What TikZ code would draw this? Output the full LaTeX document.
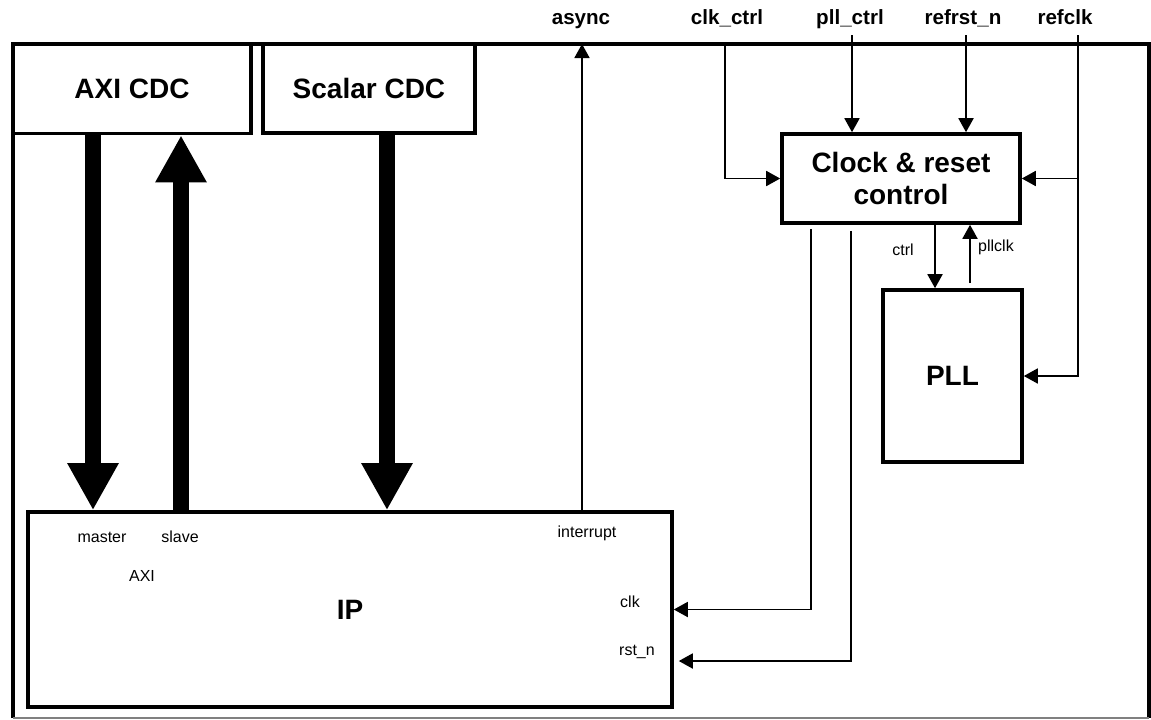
\documentclass[tikz,border=0pt]{standalone}
\usepackage{fontspec}
\setmainfont{Liberation Sans}
\usetikzlibrary{arrows.meta,calc}
\tikzset{
  blk/.style={draw=black, line width=1.8pt, align=center, inner sep=0pt,
    font=\fontsize{14}{16}\selectfont\bfseries},
  port/.style={anchor=base, inner sep=0pt, font=\fontsize{10.3}{12}\selectfont\bfseries},
  pinlab/.style={inner sep=0pt, font=\fontsize{8}{9.6}\selectfont},
  frame/.style={draw=black, line width=2.3pt},
  sig/.style={-{Triangle[length=7pt,width=7.5pt]}, draw=black, line width=0.9pt},
  bus/.style={-{Triangle[length=23.5pt,width=24pt]}, draw=black, line width=8pt}}
\begin{document}
\begin{tikzpicture}[x=0.5pt, y=-0.5pt]
  \useasboundingbox (0,0) rectangle (1151,719);
  \draw[frame] (13,718) -- (13,44) -- (1149,44) -- (1149,718);
  \draw[black!50, line width=0.6pt] (13,718) -- (1149,718);
  \node[blk, minimum width=119pt, minimum height=45pt] (axicdc) at (132,88.5) {AXI CDC};
  \node[blk, minimum width=106pt, minimum height=44.5pt] (scalarcdc) at (369,88.5) {Scalar CDC};
  \node[blk, minimum width=119pt, minimum height=44.5pt] (crc) at (901,178.5) {Clock \& reset\\control};
  \node[blk, minimum width=69.5pt, minimum height=86pt] (pll) at (952.5,376) {PLL};
  \node[blk, minimum width=322pt, minimum height=97.5pt] (ip) at (350,609.5) {IP};
  \node[port] (async) at (581,24.5) {async};
  \node[port] (clkctrl) at (727,24.5) {clk\_ctrl};
  \node[port] (pllctrl) at (850,24.5) {pll\_ctrl};
  \node[port] (refrstn) at (963,24.5) {refrst\_n};
  \node[port] (refclk) at (1065,24.5) {refclk};
  \node[pinlab] (master) at (102,537) {master};
  \node[pinlab] (slave) at (180,537) {slave};
  \node[pinlab] (axi) at (142,576) {AXI};
  \node[pinlab] (interrupt) at (587,533) {interrupt};
  \node[pinlab] (clk) at (630,602) {clk};
  \node[pinlab] (rstn) at (637,652) {rst\_n};
  \node[pinlab] (ctrl) at (903,250) {ctrl};
  \node[pinlab] (pllclk) at (996,247) {pllclk};
  \coordinate (mst) at ($(axicdc.south)+(-39,0)$);
  \coordinate (slv) at ($(axicdc.south)+(49,0)$);
  \coordinate (scl) at ($(scalarcdc.south)+(18,0)$);
  \draw[bus] (mst) -- (mst |- ip.north);
  \draw[bus] (slv |- ip.north) -- (slv);
  \draw[bus] (scl) -- (scl |- ip.north);
  \coordinate (asyncpin) at (582,44);
  \coordinate (clkctrlpin) at (725,44);
  \coordinate (pllctrlpin) at (852,35);
  \coordinate (refrstpin) at (966,35);
  \coordinate (refclkpin) at (1078,35);
  \draw[sig] (asyncpin |- ip.north) -- (asyncpin);
  \draw[sig] (clkctrlpin) |- (crc.west);
  \draw[sig] (pllctrlpin) -- (pllctrlpin |- crc.north);
  \draw[sig] (refrstpin) -- (refrstpin |- crc.north);
  \draw[sig] (refclkpin) |- (pll.east);
  \draw[sig] (refclkpin |- crc.east) -- (crc.east);
  \coordinate (ctrlout) at ($(crc.south)+(34,0)$);
  \coordinate (pllclkin) at ($(crc.south)+(69,0)$);
  \coordinate (clkout) at ($(crc.south)+(-90,4)$);
  \coordinate (rstout) at ($(crc.south)+(-50,6)$);
  \draw[sig] (ctrlout) -- (ctrlout |- pll.north);
  \draw[sig] ([yshift=2.5pt]pllclkin |- pll.north) -- (pllclkin);
  \draw[sig] (clkout) |- (ip.east);
  \draw[sig] (rstout) |- ($(ip.east)+(5,51.5)$);
\end{tikzpicture}
\end{document}
